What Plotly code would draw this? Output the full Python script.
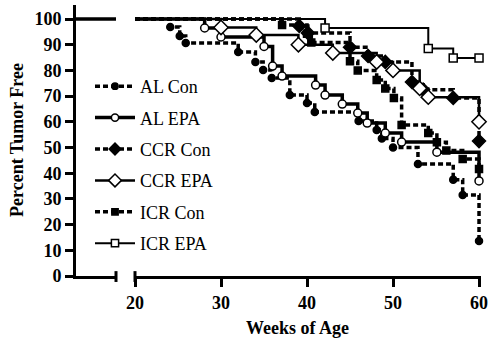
import plotly.graph_objects as go

# ---------------- data ----------------
series_names = ["AL Con", "AL EPA", "CCR Con", "CCR EPA", "ICR Con", "ICR EPA"]
week_ticks = [20, 30, 40, 50, 60]
pct_ticks = [0, 10, 20, 30, 40, 50, 60, 70, 80, 90, 100]
start_week = 20
start_pct = 100

al_con_weeks = [24.1, 25.2, 25.9, 32.0, 34.0, 34.9, 35.9, 38.0, 40.0, 40.9, 46.0, 48.1, 48.7, 50.0, 52.9, 57.0, 58.1, 60.0]
al_con_pct = [96.9, 93.4, 90.7, 87.2, 83.3, 80.2, 77.0, 70.4, 67.3, 63.8, 60.3, 56.8, 53.5, 50.0, 43.6, 37.5, 31.5, 13.6]

al_epa_weeks = [28.1, 30.0, 35.0, 36.0, 37.1, 41.0, 42.1, 44.1, 45.9, 47.0, 49.1, 51.0, 55.1, 60.0]
al_epa_pct = [96.5, 93.0, 89.3, 81.7, 77.8, 74.3, 70.4, 66.9, 63.4, 59.5, 55.6, 52.1, 48.2, 37.0]

ccr_con_weeks = [39.1, 40.1, 45.0, 47.1, 49.1, 52.2, 53.5, 57.0, 60.0]
ccr_con_pct = [97.3, 94.6, 89.0, 85.6, 83.3, 75.5, 72.5, 69.3, 52.5]

ccr_epa_weeks = [30.0, 34.1, 39.0, 43.0, 48.1, 50.0, 53.1, 54.1, 60.0]
ccr_epa_pct = [96.7, 93.8, 90.0, 86.8, 83.3, 80.0, 73.0, 69.6, 60.0]

icr_con_weeks = [37.1, 40.0, 40.5, 45.0, 45.9, 48.1, 49.1, 50.1, 51.0, 54.1, 55.1, 56.2, 58.1, 60.0]
icr_con_pct = [97.7, 94.3, 90.9, 83.6, 80.0, 76.3, 73.0, 69.3, 58.8, 55.6, 52.0, 48.8, 45.5, 41.6]

icr_epa_weeks = [42.1, 54.1, 57.0, 60.0]
icr_epa_pct = [96.5, 88.5, 84.8, 84.8]

series_weeks = [al_con_weeks, al_epa_weeks, ccr_con_weeks, ccr_epa_weeks, icr_con_weeks, icr_epa_weeks]
series_pct = [al_con_pct, al_epa_pct, ccr_con_pct, ccr_epa_pct, icr_con_pct, icr_epa_pct]

# ---------------- styles ----------------
styles = [
    dict(dash="5px,3px", width=3.5, symbol="circle", size=7, fill="black"),
    dict(dash="solid", width=3.5, symbol="circle-open", size=8, fill="white"),
    dict(dash="5px,3px", width=3.5, symbol="diamond", size=10, fill="black"),
    dict(dash="solid", width=2.5, symbol="diamond-open", size=11, fill="white"),
    dict(dash="5px,3px", width=3.5, symbol="square", size=7, fill="black"),
    dict(dash="solid", width=2, symbol="square-open", size=8, fill="white"),
]

FONT = "Liberation Serif"


def marker_of(st, scale=1.0):
    sym = st["symbol"].replace("-open", "")
    return dict(symbol=sym, size=st["size"] * scale, color=st["fill"],
                line=dict(color="black", width=1.5))


fig = go.Figure()

# legend entries
for name, st in zip(series_names, styles):
    fig.add_trace(go.Scatter(
        x=[None], y=[None], name=name, mode="lines+markers",
        line=dict(color="black", width=st["width"], dash=st["dash"]),
        marker=marker_of(st, 0.9), legendgroup=name, showlegend=True,
        xaxis="x2", yaxis="y"))

# segment at 100 % before the axis break
fig.add_trace(go.Scatter(
    x=[0, 1], y=[start_pct, start_pct], mode="lines",
    line=dict(color="black", width=3.5), showlegend=False,
    xaxis="x", yaxis="y", hoverinfo="skip"))

# step lines
for name, st, wk, pc in zip(series_names, styles, series_weeks, series_pct):
    fig.add_trace(go.Scatter(
        x=[start_week] + wk, y=[start_pct] + pc, mode="lines",
        line=dict(color="black", width=st["width"], dash=st["dash"], shape="hv"),
        showlegend=False, legendgroup=name, xaxis="x2", yaxis="y"))

# markers on top
for name, st, wk, pc in zip(series_names, styles, series_weeks, series_pct):
    fig.add_trace(go.Scatter(
        x=wk, y=pc, mode="markers", marker=marker_of(st),
        showlegend=False, legendgroup=name, cliponaxis=False,
        xaxis="x2", yaxis="y"))

W, H = 489, 344
ML, MR, MT, MB = 76, 8, 5, 68
pw = W - ML - MR
ph = H - MT - MB
x_break_l = (116 - ML) / pw
x_break_r = (135 - ML) / pw

axis_common = dict(showline=True, linewidth=3, linecolor="black",
                   showgrid=False, zeroline=False)

fig.update_layout(
    width=W, height=H,
    margin=dict(l=ML, r=MR, t=MT, b=MB, autoexpand=False),
    paper_bgcolor="white", plot_bgcolor="white",
    font=dict(family=FONT, color="black"),
    hovermode=False,
    xaxis=dict(domain=[0, x_break_l], range=[0, 1], anchor="y",
               showticklabels=False, ticks="", fixedrange=True, **axis_common),
    xaxis2=dict(domain=[x_break_r, 1], range=[20, 60.23], anchor="y",
                tickvals=week_ticks, ticks="outside", ticklen=8, tickwidth=3,
                tickcolor="black",
                tickfont=dict(family=FONT, size=18, weight="bold", color="black"),
                **axis_common),
    yaxis=dict(range=[0, 105.45], anchor="x", tickvals=pct_ticks,
               ticks="outside", ticklen=8, tickwidth=3, tickcolor="black",
               tickfont=dict(family=FONT, size=18, weight="bold", color="black"),
               **axis_common),
    legend=dict(x=(90 - ML) / pw, y=(276 - 68) / ph, xanchor="left", yanchor="top",
                bgcolor="rgba(0,0,0,0)", font=dict(family=FONT, size=18, color="black"),
                itemwidth=40, tracegroupgap=5, traceorder="grouped"),
    showlegend=True,
    annotations=[
        dict(text="Percent Tumor Free", textangle=-90, showarrow=False,
             xref="paper", yref="paper", x=(17 - ML) / pw, y=(276 - 140) / ph,
             xanchor="center", yanchor="middle",
             font=dict(family=FONT, size=18, weight="bold", color="black")),
        dict(text="Weeks of Age", showarrow=False,
             xref="paper", yref="paper", x=(297 - ML) / pw, y=(276 - 328) / ph,
             xanchor="center", yanchor="middle",
             font=dict(family=FONT, size=18, weight="bold", color="black")),
    ],
    shapes=[
        dict(type="line", xref="x domain", yref="y domain", x0=1, x1=1,
             y0=-0.022, y1=0.018, line=dict(color="black", width=3)),
        dict(type="line", xref="x2 domain", yref="y domain", x0=0, x1=0,
             y0=-0.022, y1=0.018, line=dict(color="black", width=3)),
    ],
)

fig.write_html(
    "out.html",
    config={"displayModeBar": False, "staticPlot": True},
    post_script="document.body.style.margin='0';document.body.style.padding='0';",
)
